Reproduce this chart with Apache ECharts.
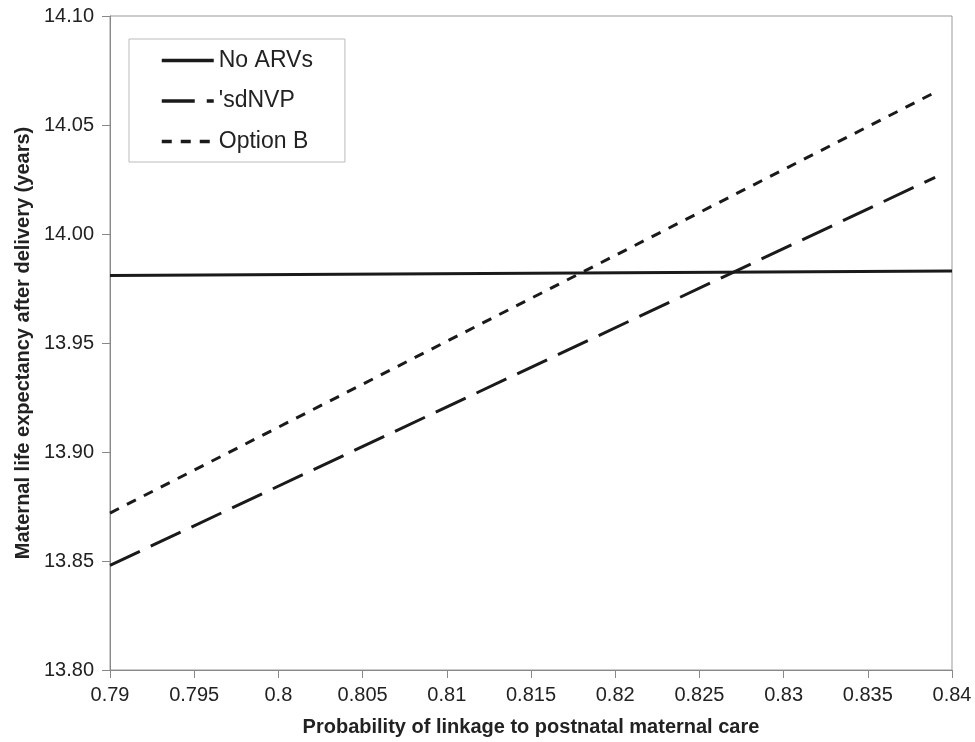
<!DOCTYPE html>
<html>
<head>
<meta charset="utf-8">
<script src="https://cdn.jsdelivr.net/npm/echarts@6/dist/echarts.min.js"></script>
<style>html,body{margin:0;padding:0;background:#fff}#c{width:975px;height:742px}</style>
</head>
<body>
<div id="c"></div>
<script>
const seriesNames = ["No ARVs", "'sdNVP", "Option B"];
const noArvX = [0.79, 0.84];
const noArvY = [13.981, 13.983];
const sdnvpX = [0.79, 0.839];
const sdnvpY = [13.848, 14.026];
const optBX = [0.79, 0.839];
const optBY = [13.872, 14.065];
const yTicks = { min: 13.80, max: 14.10, interval: 0.05 };
const xTicks = { min: 0.79, max: 0.84, interval: 0.005 };

const pair = (xs, ys) => xs.map((x, i) => [x, ys[i]]);
const font = 'Liberation Sans, Arial, sans-serif';
const chart = echarts.init(document.getElementById('c'));
chart.setOption({
  animation: false,
  backgroundColor: '#fff',
  grid: { left: 110, right: 23, top: 16, bottom: 71, show: true, borderColor: '#999', borderWidth: 1 },
  legend: {
    orient: 'vertical', left: 129, top: 39,
    itemWidth: 52, itemHeight: 20, itemGap: 17.5,
    padding: [10, 32, 9, 31],
    backgroundColor: '#fff', borderColor: '#bbb', borderWidth: 1,
    itemStyle: { opacity: 0 },
    lineStyle: { width: 3.5 },
    textStyle: { fontFamily: font, fontSize: 23, lineHeight: 20, color: '#222' },
    data: seriesNames
  },
  xAxis: {
    type: 'value', min: xTicks.min, max: xTicks.max, interval: xTicks.interval,
    name: 'Probability of linkage to postnatal maternal care',
    nameLocation: 'middle', nameGap: 47,
    nameTextStyle: { fontFamily: font, fontSize: 20, fontWeight: 'bold', color: '#222' },
    axisLine: { lineStyle: { color: '#888' } },
    axisTick: { show: true, length: 8, lineStyle: { color: '#888' } },
    axisLabel: { fontFamily: font, fontSize: 20, color: '#222', margin: 15,
      formatter: v => String(parseFloat(v.toFixed(3))) },
    splitLine: { show: false }
  },
  yAxis: {
    type: 'value', min: yTicks.min, max: yTicks.max, interval: yTicks.interval,
    name: 'Maternal life expectancy after delivery (years)',
    nameLocation: 'middle', nameGap: 77, nameRotate: 90,
    nameTextStyle: { fontFamily: font, fontSize: 20, fontWeight: 'bold', color: '#222' },
    axisLine: { show: true, lineStyle: { color: '#888' } },
    axisTick: { show: true, length: 8, lineStyle: { color: '#888' } },
    axisLabel: { fontFamily: font, fontSize: 20, color: '#222', margin: 16,
      formatter: v => v.toFixed(2) },
    splitLine: { show: false }
  },
  series: [
    { name: seriesNames[0], type: 'line', symbol: 'none', data: pair(noArvX, noArvY),
      lineStyle: { color: '#1a1a1a', width: 3, type: 'solid' }, itemStyle: { color: '#1a1a1a' } },
    { name: seriesNames[1], type: 'line', symbol: 'none', data: pair(sdnvpX, sdnvpY),
      lineStyle: { color: '#1a1a1a', width: 3, type: [33, 12] }, itemStyle: { color: '#1a1a1a' } },
    { name: seriesNames[2], type: 'line', symbol: 'none', data: pair(optBX, optBY),
      lineStyle: { color: '#1a1a1a', width: 3, type: [10, 9] }, itemStyle: { color: '#1a1a1a' } }
  ]
});
</script>
</body>
</html>
